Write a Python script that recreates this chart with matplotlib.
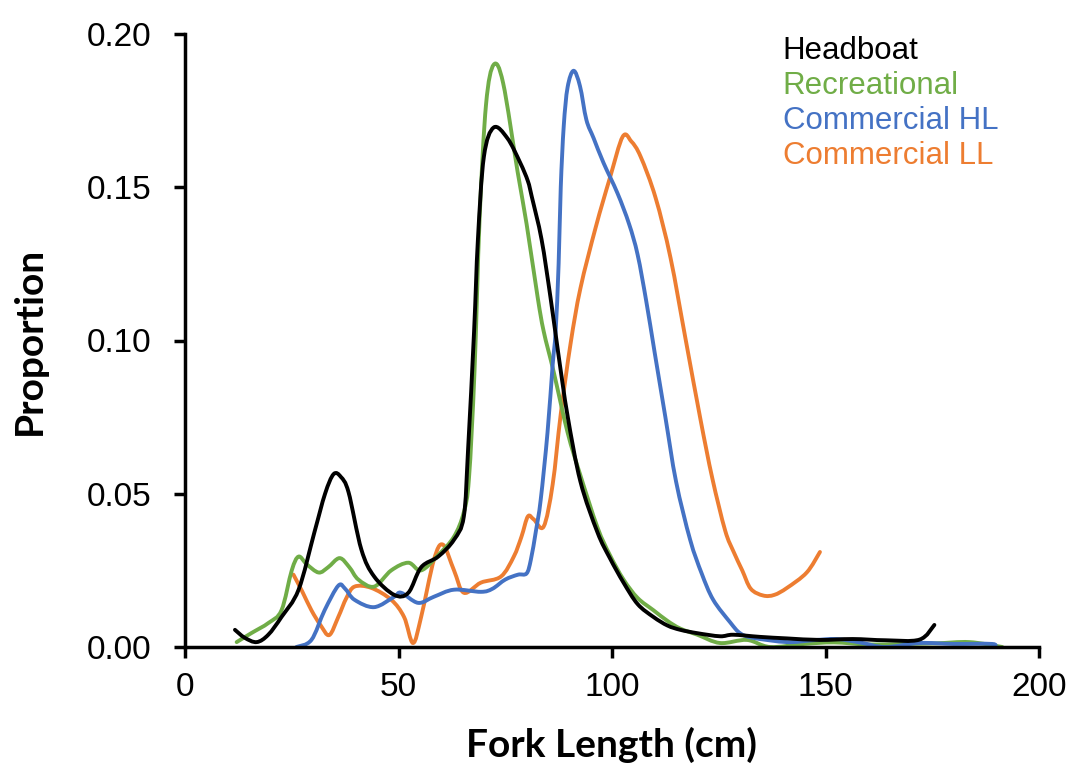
import matplotlib
matplotlib.use("Agg")
import matplotlib.pyplot as plt
from matplotlib.path import Path
from matplotlib.patches import PathPatch
from matplotlib.lines import Line2D

# Length compositions (proportion at fork length, cm)
headboat_x = [11.7, 14, 16.8, 19.5, 22.6, 26.6, 30.3, 32.8, 34.8, 36.5, 38.3, 41.3,
              44.3, 49, 52.3, 55.3, 59.3, 63, 65.3, 66.3, 67.7, 68.6, 70, 72.3, 75.5,
              78.5, 80.3, 81.2, 83.5, 85.6, 87.5, 89.6, 92.6, 96.6, 99.5, 102.7, 106,
              109.7, 113, 116, 120, 125.3, 128.4, 134.7, 141, 148.7, 156.4, 164, 172,
              175.5]
headboat_y = [0.0056, 0.003, 0.0016, 0.004, 0.0098, 0.0187, 0.0374, 0.050, 0.0564,
              0.0555, 0.0505, 0.0318, 0.023, 0.017, 0.0177, 0.026, 0.0295, 0.035,
              0.0426, 0.0646, 0.103, 0.133, 0.160, 0.1695, 0.166, 0.158, 0.152, 0.147,
              0.133, 0.114, 0.095, 0.0754, 0.054, 0.0374, 0.029, 0.021, 0.014, 0.0098,
              0.007, 0.0056, 0.0045, 0.0035, 0.004, 0.0033, 0.0028, 0.0023, 0.0026,
              0.0022, 0.0024, 0.0072]

recreational_x = [12.1, 15.5, 19.6, 22.6, 25, 26.6, 28.5, 31.3, 33.5, 36.2, 38.5, 40.6,
                  44.3, 48.3, 52.3, 55.3, 59.3, 63, 65.3, 66.5, 67.8, 69, 70.5, 72.3,
                  74.5, 77.9, 80, 82.6, 84, 86.3, 89.6, 92.6, 96.6, 99.5, 102.7, 106,
                  109.7, 113, 116, 120, 125.3, 131.6, 137, 145, 152, 160, 168, 176,
                  183.7, 191.4]
recreational_y = [0.0016, 0.0045, 0.0079, 0.012, 0.025, 0.0295, 0.027, 0.0243, 0.026,
                  0.029, 0.026, 0.022, 0.0197, 0.025, 0.0275, 0.025, 0.030, 0.036,
                  0.044, 0.055, 0.090, 0.140, 0.177, 0.190, 0.184, 0.155, 0.138, 0.114,
                  0.103, 0.090, 0.070, 0.056, 0.039, 0.030, 0.022, 0.016, 0.012, 0.0085,
                  0.006, 0.004, 0.0013, 0.0023, 0.0, 0.001, 0.0015, 0.0008, 0.001,
                  0.0012, 0.0016, 0.0]

comm_hl_x = [26.1, 29.6, 32.7, 35.9, 37.5, 39.7, 44.3, 49, 50.6, 54.6, 58.3, 63, 69.3,
             72, 75, 78, 80, 81, 82.2, 83.3, 84.9, 86.1, 86.8, 87.5, 88, 88.7, 89.6,
             91, 92.5, 94, 95.7, 98, 101.3, 104, 106, 108, 110, 112.5, 115, 118.3,
             121, 123.7, 127.7, 130, 133, 141, 147, 152.6, 158, 164, 172, 180, 189,
             189.5]
comm_hl_y = [0.0, 0.0023, 0.012, 0.020, 0.019, 0.0154, 0.013, 0.0164, 0.0177, 0.0144,
             0.0164, 0.0187, 0.018, 0.019, 0.022, 0.0236, 0.024, 0.0285, 0.038, 0.048,
             0.070, 0.092, 0.103, 0.125, 0.150, 0.170, 0.1826, 0.188, 0.183, 0.172,
             0.166, 0.158, 0.148, 0.138, 0.128, 0.113, 0.096, 0.075, 0.054, 0.035,
             0.024, 0.0154, 0.008, 0.0045, 0.003, 0.0016, 0.0022, 0.0026, 0.0015,
             0.0, 0.0013, 0.001, 0.001, 0.0]

comm_ll_x = [25.4, 27.5, 29.6, 31.8, 33.8, 35.9, 37.8, 39.7, 43.6, 48.3, 51.3, 53.4,
             55.3, 58.3, 60.4, 63, 65.3, 69.3, 74, 77, 78.8, 80.3, 81.7, 84, 86.1, 88,
             90.3, 92.6, 96.2, 99.5, 102.5, 104.5, 106.7, 110.2, 113.7, 117.2, 120.7,
             123.5, 126.5, 128.5, 130.5, 132.5, 135.4, 138, 141, 145.6, 148.7]
comm_ll_y = [0.0236, 0.018, 0.012, 0.007, 0.0039, 0.0098, 0.016, 0.0197, 0.0193,
             0.0154, 0.0098, 0.0013, 0.0098, 0.0285, 0.0334, 0.025, 0.0177, 0.021,
             0.023, 0.0295, 0.036, 0.0426, 0.0416, 0.0393, 0.053, 0.076, 0.099, 0.117,
             0.137, 0.153, 0.1665, 0.165, 0.160, 0.1466, 0.127, 0.1007, 0.0744, 0.055,
             0.038, 0.031, 0.025, 0.019, 0.0168, 0.017, 0.0193, 0.0243, 0.031]

series = [
    ("Headboat", headboat_x, headboat_y, "#000000"),
    ("Recreational", recreational_x, recreational_y, "#70AD47"),
    ("Commercial HL", comm_hl_x, comm_hl_y, "#4472C4"),
    ("Commercial LL", comm_ll_x, comm_ll_y, "#ED7D31"),
]
draw_order = ["Commercial LL", "Recreational", "Commercial HL", "Headboat"]


def smooth_path(xs, ys):
    """Catmull-Rom spline through the points as cubic Bezier segments."""
    pts = list(zip(xs, ys))
    n = len(pts)
    verts = [pts[0]]
    codes = [Path.MOVETO]
    for i in range(n - 1):
        p0 = pts[i - 1] if i > 0 else pts[i]
        p1 = pts[i]
        p2 = pts[i + 1]
        p3 = pts[i + 2] if i + 2 < n else pts[i + 1]
        c1 = (p1[0] + (p2[0] - p0[0]) / 6.0, p1[1] + (p2[1] - p0[1]) / 6.0)
        c2 = (p2[0] - (p3[0] - p1[0]) / 6.0, p2[1] - (p3[1] - p1[1]) / 6.0)
        verts += [c1, c2, p2]
        codes += [Path.CURVE4] * 3
    return Path(verts, codes)


plt.rcParams["font.family"] = ["Liberation Sans", "DejaVu Sans"]

fig = plt.figure(figsize=(10.78, 7.83), dpi=100)
ax = fig.add_axes([185 / 1078, 1 - 647 / 783, (1039 - 185) / 1078, (647 - 34) / 783])

lookup = {name: (x, y, c) for name, x, y, c in series}
for name in draw_order:
    x, y, c = lookup[name]
    patch = PathPatch(smooth_path(x, y), facecolor="none", edgecolor=c,
                      linewidth=2.8, capstyle="round", joinstyle="round",
                      transform=ax.transData, clip_on=False)
    ax.add_patch(patch)

ax.set_xlim(0, 200)
ax.set_ylim(0, 0.20)
ax.set_xticks([0, 50, 100, 150, 200])
ax.set_yticks([0.00, 0.05, 0.10, 0.15, 0.20])
ax.set_yticklabels(["0.00", "0.05", "0.10", "0.15", "0.20"])

for side in ("top", "right"):
    ax.spines[side].set_visible(False)
for side in ("left", "bottom"):
    ax.spines[side].set_linewidth(2.5)
    ax.spines[side].set_color("black")
ax.tick_params(axis="both", direction="out", length=8, width=2.5,
               labelsize=24, colors="black")
ax.tick_params(axis="y", pad=16)
ax.tick_params(axis="x", pad=10)

label_font = {"family": ["Lato", "DejaVu Sans"], "weight": "bold", "size": 28}
ax.set_xlabel("Fork Length (cm)", fontdict=label_font, labelpad=17)
ax.set_ylabel("Proportion", fontdict=label_font, labelpad=29)

handles = [Line2D([], [], color=c, linewidth=0) for _, _, _, c in series]
labels = [name for name, _, _, _ in series]
leg = fig.legend(handles, labels, loc="upper left",
                 bbox_to_anchor=(767 / 1078, 1 - 20 / 783),
                 frameon=False, handlelength=0, handletextpad=0,
                 borderpad=0, labelspacing=0.16, fontsize=22.5,
                 labelcolor="linecolor")

fig.savefig("out.png", dpi=100, facecolor="white")
